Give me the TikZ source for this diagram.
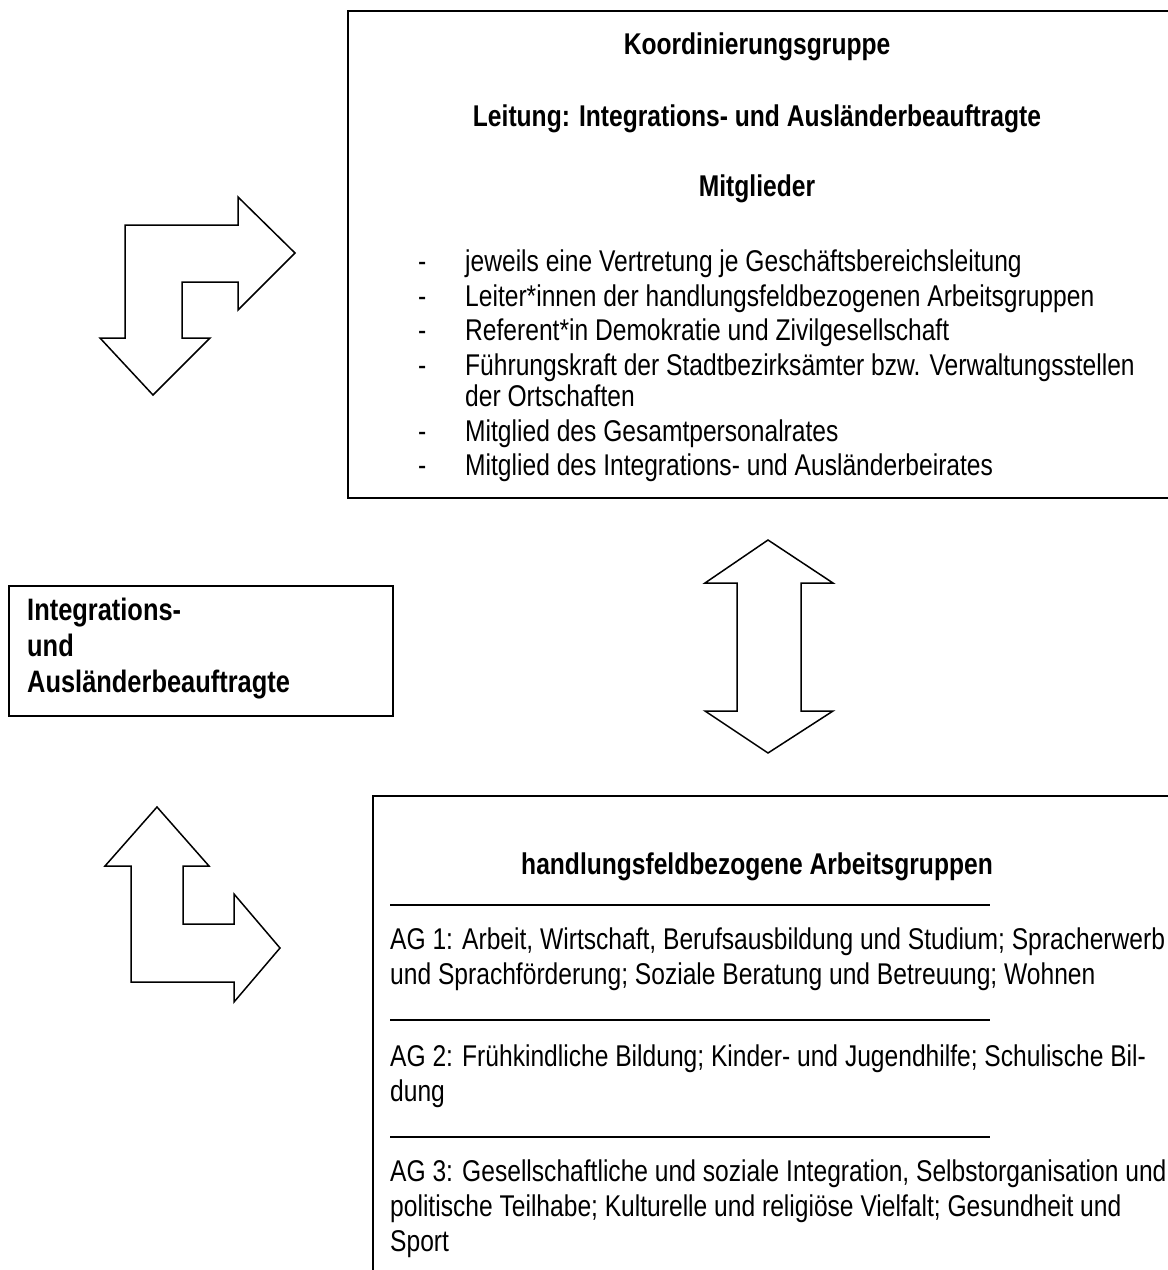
\documentclass[tikz,border=0pt]{standalone}
\usepackage{fontspec}
\setmainfont[FakeStretch=0.82]{Liberation Sans}
\begin{document}
\begin{tikzpicture}[x=1pt,y=-1pt,
  box/.style={draw,line width=2pt,anchor=north west,inner sep=0pt},
  blockarrow/.style={draw,line width=1.5pt,line join=miter,fill=white},
  hd/.style={font=\fontsize{30}{34.5}\selectfont\bfseries,anchor=base,inner sep=0pt},
  lhd/.style={font=\fontsize{31}{36}\selectfont\bfseries,anchor=base west,inner sep=0pt},
  txt/.style={font=\fontsize{30}{34.5}\selectfont,anchor=base west,inner sep=0pt},
  bul/.style={font=\fontsize{30}{34.5}\selectfont,anchor=base west,inner sep=0pt},
  rule/.style={line width=1.5pt}]
\useasboundingbox (0,0) rectangle (1168,1270);
\fill[white] (0,0) rectangle (1168,1270);
% boxes
\node[box,minimum width=840pt,minimum height=487pt] (top) at (347,10) {};
\node[box,minimum width=384pt,minimum height=130pt] (left) at (8,585) {};
\node[box,minimum width=820pt,minimum height=500pt] (bottom) at (372,795) {};
% top box text
\node[hd] (k1) at (757,54) {Koordinierungsgruppe};
\node[hd] (k2) at (757,126) {Leitung: Integrations- und Ausländerbeauftragte};
\node[hd] (k3) at (757,196) {Mitglieder};
\foreach \y/\t [count=\i] in {271/jeweils eine Vertretung je Geschäftsbereichsleitung,
  306/Leiter*innen der handlungsfeldbezogenen Arbeitsgruppen,
  340/Referent*in Demokratie und Zivilgesellschaft,
  375/Führungskraft der Stadtbezirksämter bzw. Verwaltungsstellen,
  441/Mitglied des Gesamtpersonalrates,
  475/Mitglied des Integrations- und Ausländerbeirates}{
  \node[bul] (d\i) at (418,\y) {-};
  \node[txt] (m\i) at (465,\y) {\t};
}
\node[txt] (m4b) at (465,406) {der Ortschaften};
% left box text
\node[lhd] (l1) at (27,620) {Integrations-};
\node[lhd] (l2) at (27,656) {und};
\node[lhd] (l3) at (27,692) {Ausländerbeauftragte};
% bottom box text
\node[hd] (h0) at (757,874) {handlungsfeldbezogene Arbeitsgruppen};
\coordinate (r1a) at (390,905); \coordinate (r1b) at (990,905);
\coordinate (r2a) at (390,1020); \coordinate (r2b) at (990,1020);
\coordinate (r3a) at (390,1137); \coordinate (r3b) at (990,1137);
\draw[rule] (r1a) -- (r1b);
\draw[rule] (r2a) -- (r2b);
\draw[rule] (r3a) -- (r3b);
\node[txt] (a1) at (390,949) {AG 1: Arbeit, Wirtschaft, Berufsausbildung und Studium; Spracherwerb};
\node[txt] (a2) at (390,984) {und Sprachförderung; Soziale Beratung und Betreuung; Wohnen};
\node[txt] (b1) at (390,1066) {AG 2: Frühkindliche Bildung; Kinder- und Jugendhilfe; Schulische Bil-};
\node[txt] (b2) at (390,1101) {dung};
\node[txt] (c1) at (390,1181) {AG 3: Gesellschaftliche und soziale Integration, Selbstorganisation und};
\node[txt] (c2) at (390,1216) {politische Teilhabe; Kulturelle und religiöse Vielfalt; Gesundheit und};
\node[txt] (c3) at (390,1251) {Sport};
% block arrows
\draw[blockarrow] (125,338) -- (100,338) -- (153,395) -- (210,338) -- (182,338) -- (182,282)
  -- (238,282) -- (238,310) -- (295,253) -- (238,197) -- (238,225) -- (125,225) -- cycle;
\draw[blockarrow] (768,540) -- (833,583) -- (801,583) -- (801,711) -- (833,711) -- (768,753)
  -- (705,711) -- (737,711) -- (737,583) -- (705,583) -- cycle;
\draw[blockarrow] (131,982) -- (131,866) -- (105,866) -- (157,807) -- (209,866) -- (183,866)
  -- (183,924) -- (234,924) -- (234,894) -- (280,948) -- (234,1002) -- (234,982) -- cycle;
\end{tikzpicture}
\end{document}
